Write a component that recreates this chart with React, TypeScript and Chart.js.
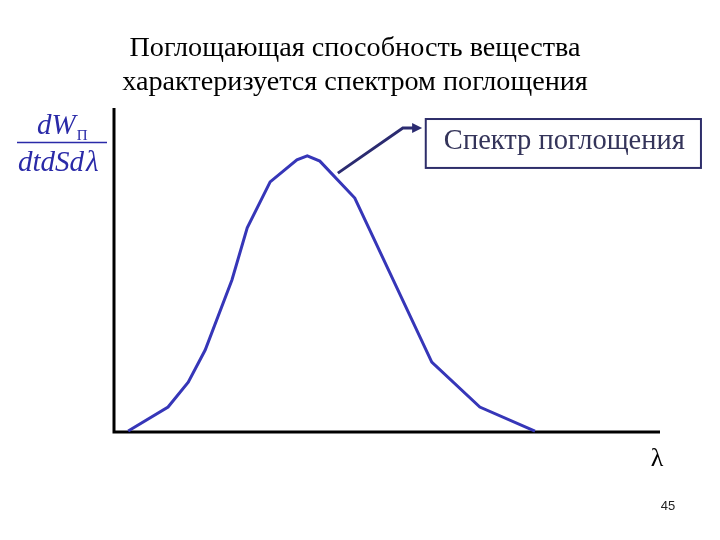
import React, { useEffect, useRef } from "react";
import { Chart, registerables } from "chart.js";

Chart.register(...registerables);

// Spectrum (wavelength in relative units, absorption in relative units)
const lambda = [2.6, 9.9, 13.6, 16.7, 21.6, 24.4, 28.6, 33.5, 35.4, 37.7, 44.1, 58.2, 67.0, 77.1];
const absorption = [0.3, 7.7, 15.4, 25.3, 46.9, 63.0, 77.2, 84.0, 85.2, 83.6, 72.2, 21.6, 7.7, 0.3];

const titleLines = ["Поглощающая способность вещества", "характеризуется спектром поглощения"];
const calloutText = "Спектр поглощения";
const xAxisLabel = "λ";
const pageNumber = "45";

// callout geometry in data units
const arrowPath = [
  [41.0, 79.9],
  [52.9, 93.8],
  [55.7, 93.8],
];
const calloutBox = { x0: 57.1, x1: 107.5, y0: 96.6, y1: 81.5 };

const SERIF = "'Liberation Serif', 'Times New Roman', serif";

const decorPlugin = {
  id: "decor",
  beforeDatasetsDraw(chart: any) {
    const { ctx, chartArea } = chart;
    ctx.save();
    ctx.strokeStyle = "#000000";
    ctx.lineWidth = 3;
    ctx.lineCap = "butt";
    ctx.beginPath();
    ctx.moveTo(chartArea.left, chartArea.top);
    ctx.lineTo(chartArea.left, chartArea.bottom);
    ctx.lineTo(chartArea.right, chartArea.bottom);
    ctx.stroke();
    ctx.restore();
  },
  afterDraw(chart: any) {
    const { ctx, chartArea, scales } = chart;
    const xs = scales.x;
    const ys = scales.y;
    ctx.save();

    // title
    ctx.fillStyle = "#000000";
    ctx.font = `28.2px ${SERIF}`;
    ctx.textAlign = "center";
    ctx.textBaseline = "alphabetic";
    ctx.fillText(titleLines[0], 355, 56);
    ctx.fillText(titleLines[1], 355, 90);

    // y label fraction
    const blue = "#2a2aa8";
    ctx.fillStyle = blue;
    ctx.textAlign = "left";
    ctx.font = `italic 29px ${SERIF}`;
    ctx.fillText("dW", 37, 134);
    const dwW = ctx.measureText("dW").width;
    ctx.font = `15px ${SERIF}`;
    ctx.fillText("П", 37 + dwW + 1, 140);
    ctx.font = `italic 29px ${SERIF}`;
    ctx.fillText("dtdSd", 18, 171);
    const dW2 = ctx.measureText("dtdSd").width;
    ctx.fillText("λ", 18 + dW2 + 2, 171);
    ctx.strokeStyle = blue;
    ctx.lineWidth = 1.5;
    ctx.beginPath();
    ctx.moveTo(17, 142.5);
    ctx.lineTo(107, 142.5);
    ctx.stroke();

    // arrow
    ctx.strokeStyle = "#2b2b70";
    ctx.fillStyle = "#2b2b70";
    ctx.lineWidth = 3;
    ctx.beginPath();
    arrowPath.forEach(([x, y], i) => {
      const px = xs.getPixelForValue(x);
      const py = ys.getPixelForValue(y);
      if (i === 0) ctx.moveTo(px, py);
      else ctx.lineTo(px, py);
    });
    ctx.stroke();
    const last = arrowPath[arrowPath.length - 1];
    const ex = xs.getPixelForValue(last[0]);
    const ey = ys.getPixelForValue(last[1]);
    ctx.beginPath();
    ctx.moveTo(ex + 4, ey);
    ctx.lineTo(ex - 6, ey - 5);
    ctx.lineTo(ex - 6, ey + 5);
    ctx.closePath();
    ctx.fill();

    // callout box
    const bx0 = xs.getPixelForValue(calloutBox.x0);
    const bx1 = xs.getPixelForValue(calloutBox.x1);
    const by0 = ys.getPixelForValue(calloutBox.y0);
    const by1 = ys.getPixelForValue(calloutBox.y1);
    ctx.strokeStyle = "#2e2e6a";
    ctx.lineWidth = 2;
    ctx.strokeRect(bx0, by0, bx1 - bx0, by1 - by0);
    ctx.fillStyle = "#34345a";
    ctx.font = `28.5px ${SERIF}`;
    ctx.textAlign = "center";
    ctx.fillText(calloutText, (bx0 + bx1) / 2 + 1, by0 + 30);

    // x axis label
    ctx.fillStyle = "#000000";
    ctx.font = `26px ${SERIF}`;
    ctx.textAlign = "center";
    ctx.fillText(xAxisLabel, chartArea.right - 3, 466);

    // page number
    ctx.fillStyle = "#222222";
    ctx.font = `13px 'Liberation Sans', Arial, sans-serif`;
    ctx.fillText(pageNumber, 668, 510);

    ctx.restore();
  },
};

export default function App() {
  const canvasRef = useRef<HTMLCanvasElement | null>(null);

  useEffect(() => {
    if (!canvasRef.current) return;
    const chart = new Chart(canvasRef.current, {
      type: "scatter",
      data: {
        datasets: [
          {
            data: lambda.map((x, i) => ({ x, y: absorption[i] })),
            showLine: true,
            borderColor: "#3636b8",
            borderWidth: 3,
            pointRadius: 0,
            tension: 0,
            clip: false as any,
          },
        ],
      },
      options: {
        responsive: false,
        animation: false,
        layout: { padding: { left: 114, top: 108, right: 60, bottom: 108 } },
        plugins: {
          legend: { display: false },
          tooltip: { enabled: false },
          title: { display: false },
        },
        scales: {
          x: { type: "linear", min: 0, max: 100, display: false },
          y: { type: "linear", min: 0, max: 100, display: false },
        },
      },
      plugins: [decorPlugin],
    });
    return () => chart.destroy();
  }, []);

  return (
    <div style={{ position: "fixed", left: 0, top: 0, width: 720, height: 540, background: "#ffffff" }}>
      <canvas ref={canvasRef} width={720} height={540} style={{ width: 720, height: 540 }} />
    </div>
  );
}
